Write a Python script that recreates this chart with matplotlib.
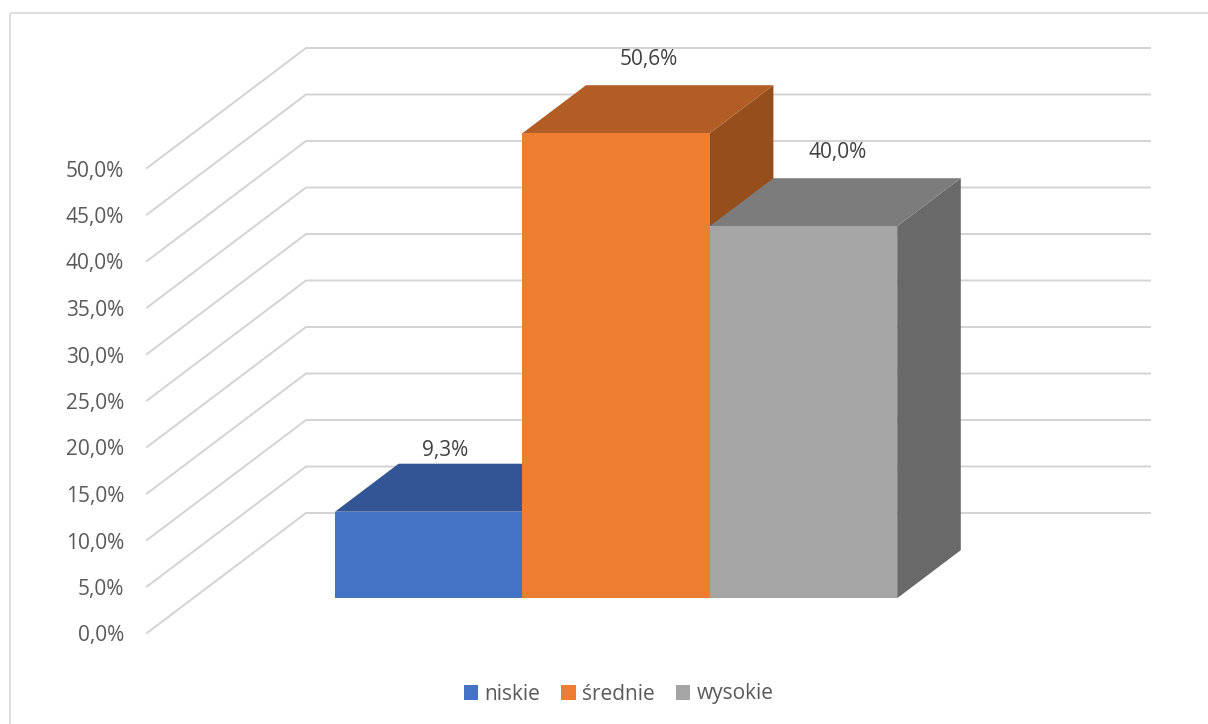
import numpy as np
import matplotlib.pyplot as plt
from matplotlib.patches import Polygon, Patch, Rectangle

plt.rcParams['font.family'] = ['Open Sans', 'DejaVu Sans']

categories = ["niskie", "średnie", "wysokie"]
values = [9.3, 50.6, 40.0]
value_labels = ["9,3%", "50,6%", "40,0%"]
ticks = [0, 5, 10, 15, 20, 25, 30, 35, 40, 45, 50]
tick_labels = ["0,0%", "5,0%", "10,0%", "15,0%", "20,0%", "25,0%",
               "30,0%", "35,0%", "40,0%", "45,0%", "50,0%"]

front_colors = ["#4472C4", "#ED7D31", "#A5A5A5"]
top_colors = ["#335593", "#B25D25", "#7C7C7C"]
side_colors = ["#2B4A80", "#964F1C", "#696969"]
label_shift = [(-15, -13), (1, -26), (2, -26)]

# oblique projection, everything in pixels of the 1208x724 picture
x_front = 147.0
y_zero = 633.0
px_per_pct = 9.3
dx_depth = 159.0
dy_depth = -120.0
x_right = 1150.0
bar_x0 = 335.0
bar_w = 187.4
depth_start = 0.29
depth_end = 0.69
axis_max = 50.0


def proj(cat, val, depth):
    # cat counts bar widths from the left of the first bar
    x = bar_x0 + cat * bar_w + (depth - depth_start) * dx_depth
    y = y_zero - val * px_per_pct + depth * dy_depth
    return x, y


fig = plt.figure(figsize=(12.08, 7.24), dpi=100)
ax = fig.add_axes([0, 0, 1, 1])
ax.set_xlim(0, 1208)
ax.set_ylim(724, 0)
ax.axis("off")

# chart frame
ax.add_patch(Rectangle((9.5, 12.5), 1300, 800, fill=False, ec="#DEDEDE", lw=1.5))

# gridlines: floor/side wall diagonal, then back wall
for t, lab in zip(ticks, tick_labels):
    y = y_zero - t * px_per_pct
    ax.plot([x_front, x_front + dx_depth, x_right], [y, y + dy_depth, y + dy_depth],
            color="#D3D3D3", lw=1.4, solid_joinstyle="round", zorder=1)
    ax.text(124, y + 3, lab, ha="right", va="center", fontsize=15, color="#595959")

# bars, left to right so each one covers the side of the previous
for i, v in enumerate(values):
    h = min(v, axis_max)
    ax.add_patch(Polygon([proj(i + 1, 0, depth_start), proj(i + 1, 0, depth_end),
                          proj(i + 1, h, depth_end), proj(i + 1, h, depth_start)],
                         fc=side_colors[i], ec="none", zorder=2))
    ax.add_patch(Polygon([proj(i, h, depth_start), proj(i + 1, h, depth_start),
                          proj(i + 1, h, depth_end), proj(i, h, depth_end)],
                         fc=top_colors[i], ec="none", zorder=2))
    ax.add_patch(Polygon([proj(i, 0, depth_start), proj(i + 1, 0, depth_start),
                          proj(i + 1, h, depth_start), proj(i, h, depth_start)],
                         fc=front_colors[i], ec="none", zorder=2))

    lx = proj(i + 0.5, h, (depth_start + depth_end) / 2)[0]
    ly = proj(i + 0.5, h, depth_end)[1]
    ax.text(lx + label_shift[i][0], ly + label_shift[i][1], value_labels[i],
            ha="center", va="center", fontsize=15, color="#404040", zorder=3)

handles = [Patch(fc=c, ec="none", label=n) for c, n in zip(front_colors, categories)]
fig.legend(handles=handles, loc="center", bbox_to_anchor=(618.5 / 1208, 1 - 694 / 724),
           ncol=3, frameon=False, fontsize=15, labelcolor="#595959",
           handlelength=0.7, handleheight=0.7, handletextpad=0.3, columnspacing=1.0,
           borderpad=0)

fig.savefig("out.png", dpi=100)
